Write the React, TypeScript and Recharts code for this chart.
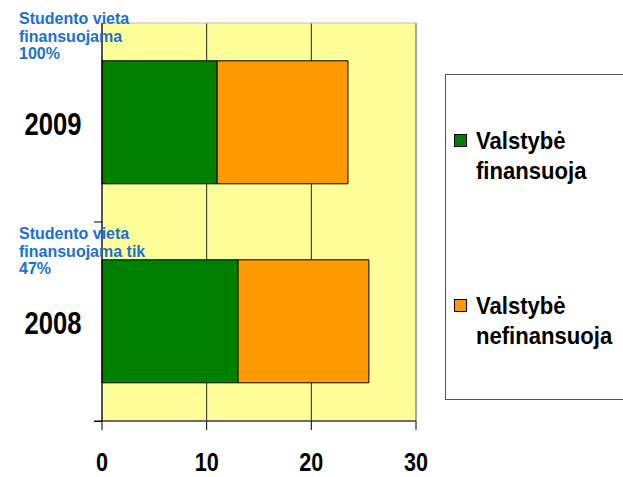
import { BarChart, Bar, XAxis, YAxis, CartesianGrid, ReferenceArea } from 'recharts'

const years = ['2009', '2008']
const funded = [11, 13]
const unfunded = [12.5, 12.5]
const xTicks = [0, 10, 20, 30]
const seriesNames = [
  ['Valstybė', 'finansuoja'],
  ['Valstybė', 'nefinansuoja'],
]
const seriesColors = ['#008000', '#FF9900']
const notes = [
  ['Studento vieta', 'finansuojama', '100%'],
  ['Studento vieta', 'finansuojama tik', '47%'],
]

const data = years.map((year, i) => ({ year, funded: funded[i], unfunded: unfunded[i] }))

const FONT = '"Liberation Sans", Arial, sans-serif'
const PLOT_TOP = 23
const PLOT_BOTTOM = 421
const HALF_BAND = (PLOT_BOTTOM - PLOT_TOP) / years.length / 2

// the original text is a bit condensed horizontally
function YearTick(props: any) {
  const { y, payload } = props
  return (
    <g>
      <line x1={94} x2={102} y1={y + HALF_BAND} y2={y + HALF_BAND} stroke="#000" />
      <text
        x={0}
        y={0}
        transform={`translate(53 ${y + 12}) scale(0.8 1)`}
        textAnchor="middle"
        fontFamily={FONT}
        fontWeight="bold"
        fontSize={32}
        fill="#000"
      >
        {payload.value}
      </text>
    </g>
  )
}

function ValueTick(props: any) {
  const { x, payload } = props
  return (
    <text
      x={0}
      y={0}
      transform={`translate(${x} 471) scale(0.83 1)`}
      textAnchor="middle"
      fontFamily={FONT}
      fontWeight="bold"
      fontSize={26}
      fill="#000"
    >
      {payload.value}
    </text>
  )
}

const noteTops = [10, 225]
const legendTops = [126, 291]

export default function App() {
  return (
    <div
      style={{
        position: 'absolute',
        left: 0,
        top: 0,
        width: 623,
        height: 477,
        overflow: 'hidden',
        background: '#fff',
      }}
    >
      <BarChart
        width={623}
        height={477}
        data={data}
        layout="vertical"
        margin={{ top: PLOT_TOP, right: 207, bottom: 0, left: 0 }}
        barCategoryGap="19%"
      >
        <CartesianGrid horizontal={false} fill="#FFFF99" fillOpacity={1} stroke="#222" />
        <ReferenceArea x1={0} x2={30} fill="none" stroke="#bdbdbd" />
        <XAxis
          type="number"
          domain={[0, 30]}
          ticks={xTicks}
          interval={0}
          height={56}
          tickSize={9}
          stroke="#000"
          tick={<ValueTick />}
        />
        <YAxis
          type="category"
          dataKey="year"
          width={102}
          tickLine={false}
          stroke="#000"
          tick={<YearTick />}
        />
        <Bar dataKey="funded" stackId="a" fill={seriesColors[0]} stroke="#000" isAnimationActive={false} />
        <Bar dataKey="unfunded" stackId="a" fill={seriesColors[1]} stroke="#000" isAnimationActive={false} />
      </BarChart>
      <div
        style={{
          position: 'absolute',
          left: 94,
          top: PLOT_BOTTOM - 0.5,
          width: 8,
          height: 1,
          background: '#000',
        }}
      />
      {notes.map((lines, i) => (
        <div
          key={i}
          style={{
            position: 'absolute',
            left: 19,
            top: noteTops[i],
            fontFamily: FONT,
            fontWeight: 'bold',
            fontSize: 16,
            lineHeight: '17.5px',
            color: '#1b6fd3',
            whiteSpace: 'nowrap',
          }}
        >
          {lines.map((l) => (
            <div key={l}>{l}</div>
          ))}
        </div>
      ))}
      <div
        style={{
          position: 'absolute',
          left: 445,
          top: 74,
          width: 200,
          height: 326,
          border: '1px solid #555',
          boxSizing: 'border-box',
          background: '#fff',
        }}
      />
      {seriesNames.map((lines, i) => (
        <div key={i}>
          <div
            style={{
              position: 'absolute',
              left: 454,
              top: legendTops[i] + 8,
              width: 13,
              height: 13,
              background: seriesColors[i],
              border: '1px solid #000',
              boxSizing: 'border-box',
            }}
          />
          <div
            style={{
              position: 'absolute',
              left: 476,
              top: legendTops[i],
              fontFamily: FONT,
              fontWeight: 'bold',
              fontSize: 24,
              lineHeight: '30px',
              color: '#000',
              whiteSpace: 'nowrap',
              transform: 'scaleX(0.92)',
              transformOrigin: 'left top',
            }}
          >
            {lines.map((l) => (
              <div key={l}>{l}</div>
            ))}
          </div>
        </div>
      ))}
    </div>
  )
}
